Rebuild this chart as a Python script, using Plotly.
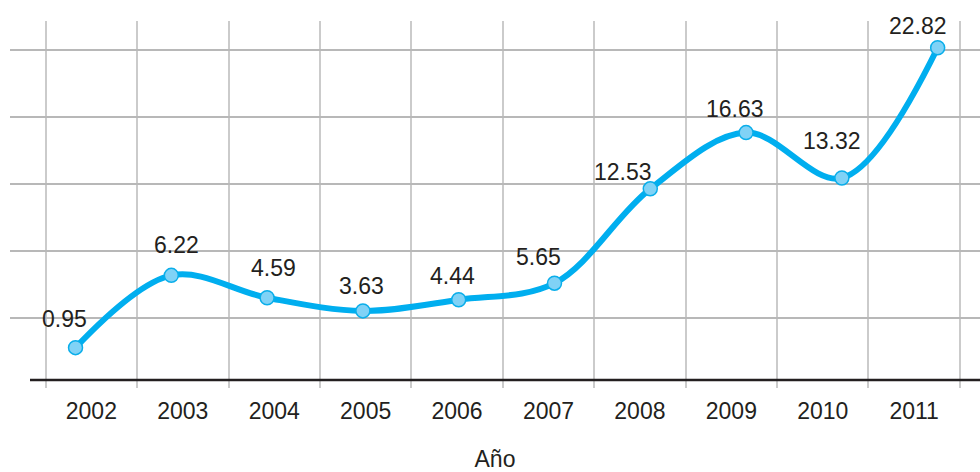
import plotly.graph_objects as go

# ---- data ----
years = ["2002", "2003", "2004", "2005", "2006", "2007", "2008", "2009", "2010", "2011"]
values = [0.95, 6.22, 4.59, 3.63, 4.44, 5.65, 12.53, 16.63, 13.32, 22.82]
value_labels = ["0.95", "6.22", "4.59", "3.63", "4.44", "5.65", "12.53", "16.63", "13.32", "22.82"]
grid_vals = [3.11, 8.0, 12.88, 17.77, 22.65]
x_title = "Año"

# label offsets (px) relative to each point
label_dx = [-11, 5.4, 5.9, -1.1, -6.2, -15.7, -27, -10.6, -9.9, -19.9]
label_dy = [29, 30.4, 30, 25.3, 24, 26, 17, 24, 37, 22]

FONT = "Liberation Sans, Arial, sans-serif"
TXT = "#231f20"
LINE = "#00aeef"

fig = go.Figure()

# invisible trace to populate the category axis carrying ticks / vertical grid
fig.add_trace(go.Scatter(x=years, y=[None] * len(years), xaxis="x", yaxis="y",
                         mode="markers", showlegend=False, hoverinfo="skip"))

fig.add_trace(go.Scatter(
    x=years, y=values, xaxis="x2", yaxis="y",
    mode="lines+markers",
    line=dict(color=LINE, width=6, shape="spline", smoothing=1),
    marker=dict(size=14, color="#80d2f6", line=dict(color="#0aaeea", width=1.5)),
    showlegend=False,
))

# category axes take annotation positions as category indices
for i, (v, t, dx, dy) in enumerate(zip(values, value_labels, label_dx, label_dy)):
    fig.add_annotation(x=i, y=v, xref="x2", yref="y", text=t, showarrow=False,
                       xanchor="center", yanchor="middle", xshift=dx, yshift=dy,
                       font=dict(family=FONT, size=23, color=TXT))

fig.update_layout(
    width=980, height=472,
    margin=dict(l=10, r=0, t=21, b=92),
    paper_bgcolor="white", plot_bgcolor="white",
    xaxis=dict(
        type="category", range=[-0.89, 9.72],
        tickson="boundaries", showgrid=True, gridcolor="#cbcbcb", gridwidth=2,
        ticks="outside", ticklen=7, tickcolor="#cbcbcb", tickwidth=2,
        ticklabelstandoff=15,
        showline=False, zeroline=False,
        tickfont=dict(family=FONT, size=23, color=TXT),
        title=dict(text=x_title, font=dict(family=FONT, size=23, color=TXT), standoff=32),
        automargin=False, fixedrange=True,
    ),
    xaxis2=dict(
        type="category", range=[-0.684, 9.442], overlaying="x", visible=False,
        fixedrange=True,
    ),
    yaxis=dict(
        range=[-1.41, 24.77], tickvals=grid_vals, showticklabels=False,
        showgrid=True, gridcolor="#b8b8b8", gridwidth=1.5,
        zeroline=False, showline=False, ticks="", fixedrange=True,
    ),
    shapes=[dict(type="line", xref="paper", yref="paper",
                 x0=20 / 970, x1=1, y0=0, y1=0,
                 line=dict(color=TXT, width=2.5))],
)

fig.write_html("out.html", config={"displayModeBar": False},
               post_script="document.body.style.margin='0px';")
